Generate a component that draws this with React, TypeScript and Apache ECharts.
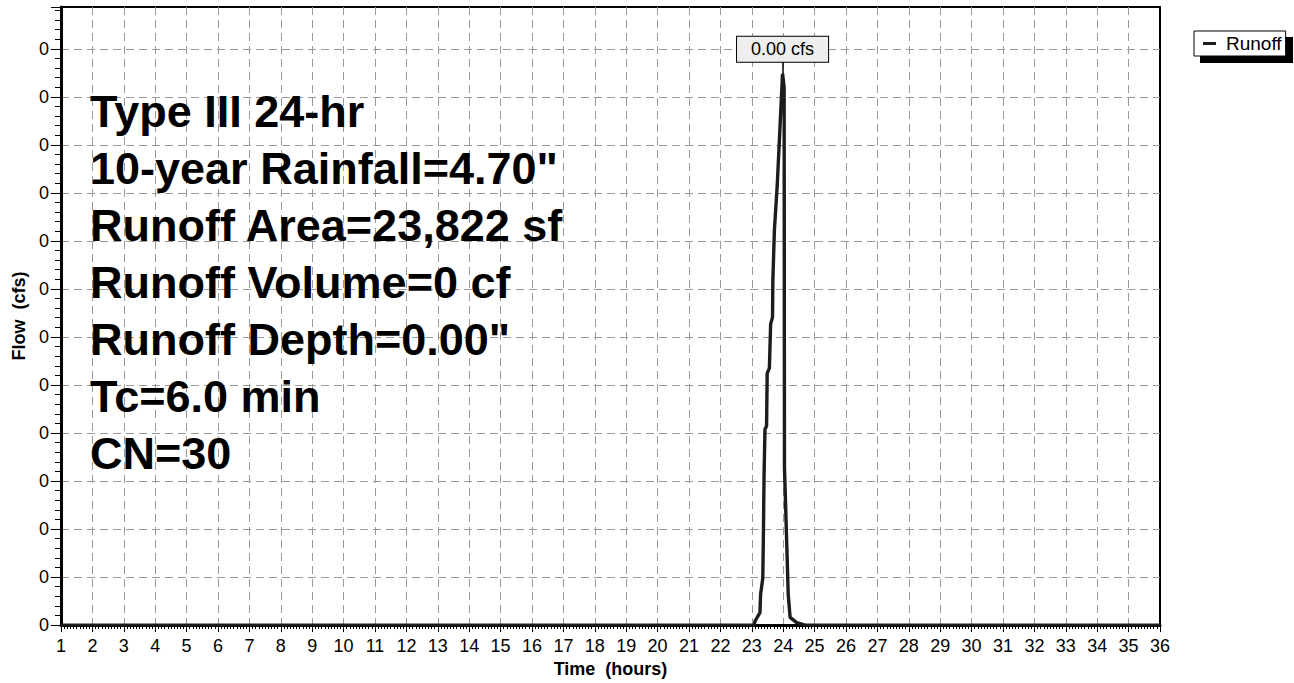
import { useEffect, useRef } from "react";
import * as echarts from "echarts";

const FONT = '"Liberation Sans", Arial, Helvetica, sans-serif';

// Hydrograph (time in hours, flow in plotted units; the axis labels all round to 0)
const timeHours = [1, 23.08, 23.1, 23.26, 23.28, 23.35, 23.37, 23.39, 23.42, 23.47, 23.49, 23.56, 23.6, 23.66, 23.67, 23.72, 23.81, 23.88, 23.95, 23.98, 24.03, 24.04, 24.11, 24.16, 24.22, 24.43, 24.7, 36];
const flowCfs = [0, 0, 0.08, 0.26, 0.64, 0.98, 1.9, 3.11, 4.08, 4.14, 5.24, 5.35, 6.27, 6.41, 7.17, 8.23, 9.16, 10.12, 11.09, 11.48, 11.2, 3.3, 1.75, 0.64, 0.16, 0.05, 0, 0];

const yTickLabels = ["0", "0", "0", "0", "0", "0", "0", "0", "0", "0", "0", "0", "0"];
const seriesName = "Runoff";
const peakTime = 23.98;
const peakFlow = 11.48;
const peakLabel = "0.00 cfs";
const annotationLines = [
  "Type III 24-hr",
  '10-year Rainfall=4.70"',
  "Runoff Area=23,822 sf",
  "Runoff Volume=0 cf",
  'Runoff Depth=0.00"',
  "Tc=6.0 min",
  "CN=30",
];

export default function App() {
  const ref = useRef<HTMLDivElement>(null);
  useEffect(() => {
    if (!ref.current) return;
    const chart = echarts.init(ref.current, undefined, { renderer: "svg" });
    const labelBase = peakFlow + 0.24;
    const gridLine = { show: true, showMinLine: false, showMaxLine: false, lineStyle: { color: "#9a9a9a", type: [8, 5], width: 1 } };
    const option: any = {
      animation: false,
      textStyle: { fontFamily: FONT },
      grid: {
        left: 61,
        right: 134,
        top: 7,
        bottom: 52,
        show: true,
        borderColor: "#000",
        borderWidth: 2,
        backgroundColor: "transparent",
      },
      legend: {
        show: true,
        left: 1194,
        top: 31,
        icon: "rect",
        itemWidth: 13,
        itemHeight: 3,
        padding: [3, 4, 3, 9],
        backgroundColor: "#fff",
        borderColor: "#000",
        borderWidth: 1,
        z: 10,
        textStyle: { fontSize: 19, color: "#000", fontFamily: FONT, padding: [0, 0, 0, 5] },
        data: [seriesName],
      },
      xAxis: {
        type: "value",
        min: 1,
        max: 36,
        interval: 1,
        name: "Time  (hours)",
        nameLocation: "middle",
        nameGap: 33,
        nameTextStyle: { fontSize: 18, fontWeight: "bold", color: "#000", fontFamily: FONT },
        axisLine: { show: true, onZero: false, lineStyle: { color: "#000", width: 3 } },
        axisTick: { show: true, inside: false, length: 7, lineStyle: { color: "#000", width: 1 } },
        minorTick: { show: true, splitNumber: 10, length: 4, lineStyle: { color: "#000", width: 1 } },
        axisLabel: { fontSize: 18, color: "#000", margin: 12, fontFamily: FONT, formatter: (v: number) => String(v) },
        splitLine: gridLine,
      },
      yAxis: {
        type: "value",
        min: 0,
        max: 12.87,
        interval: 1,
        name: "Flow  (cfs)",
        nameLocation: "middle",
        nameGap: 33,
        nameTextStyle: { fontSize: 18, fontWeight: "bold", color: "#000", fontFamily: FONT },
        axisLine: { show: true, onZero: false, lineStyle: { color: "#000", width: 3 } },
        axisTick: { show: true, inside: false, length: 10, lineStyle: { color: "#000", width: 1 } },
        minorTick: { show: true, splitNumber: 5, length: 6, lineStyle: { color: "#000", width: 1 } },
        axisLabel: {
          fontSize: 18,
          color: "#000",
          margin: 12,
          fontFamily: FONT,
          showMaxLabel: false,
          formatter: (v: number) => yTickLabels[Math.round(v)] ?? "",
        },
        splitLine: gridLine,
      },
      series: [
        {
          type: "line",
          name: seriesName,
          data: timeHours.map((t, i) => [t, flowCfs[i]]),
          showSymbol: false,
          symbol: "none",
          lineStyle: { color: "#1c1c1c", width: 3.4 },
          itemStyle: { color: "#1c1c1c" },
          z: 3,
          markLine: {
            silent: true,
            symbol: ["none", "none"],
            label: { show: false },
            lineStyle: { color: "#000", width: 1.5, type: "solid" },
            data: [[{ coord: [peakTime, peakFlow] }, { coord: [peakTime, labelBase] }]],
          },
          markPoint: {
            silent: true,
            symbol: "rect",
            symbolSize: 1,
            itemStyle: { color: "rgba(0,0,0,0)" },
            data: [{ coord: [peakTime, labelBase], value: peakLabel }],
            label: {
              show: true,
              position: "top",
              distance: 0,
              formatter: peakLabel,
              fontSize: 18,
              lineHeight: 19,
              color: "#000",
              fontFamily: FONT,
              backgroundColor: "#eeeeee",
              borderColor: "#000",
              borderWidth: 1,
              padding: [3, 14, 3, 14],
            },
          },
        },
      ],
      graphic: [
        {
          type: "rect",
          x: 1200,
          y: 37,
          z: 1,
          shape: { width: 93, height: 26 },
          style: { fill: "#000" },
        },
        ...annotationLines.map((line, i) => ({
          type: "text",
          x: 90,
          y: 111 + i * 57,
          z: 5,
          style: {
            text: line,
            fill: "#000",
            fontSize: 45,
            fontWeight: "bold",
            fontFamily: FONT,
            align: "left",
            verticalAlign: "middle",
          },
        })),
      ],
    };
    chart.setOption(option);
    return () => chart.dispose();
  }, []);
  return <div ref={ref} style={{ position: "absolute", left: 0, top: 0, width: 1294, height: 683 }} />;
}
